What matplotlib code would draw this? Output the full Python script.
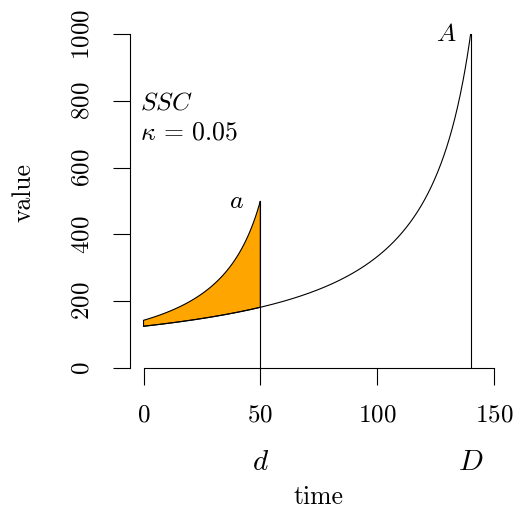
import numpy as np
import matplotlib
matplotlib.use("Agg")
import matplotlib.pyplot as plt
from matplotlib import transforms

plt.rcParams['font.family'] = 'serif'
plt.rcParams['font.serif'] = ['cmr10']
plt.rcParams['mathtext.fontset'] = 'cm'
plt.rcParams['axes.formatter.use_mathtext'] = True

# Parameters
big_reward = 1000      # A
big_delay = 140        # D
small_reward = 500     # a
small_delay = 50       # d
kappa = 0.05
x_ticks = [0, 50, 100, 150]
y_ticks = [0, 200, 400, 600, 800, 1000]

W, H = 517, 513
fig = plt.figure(figsize=(W / 100, H / 100), dpi=100)
left_px, right_px, top_px, bot_px = 129.5, 508.0, 34.0, 368.0
ax = fig.add_axes([left_px / W, 1 - bot_px / H, (right_px - left_px) / W, (bot_px - top_px) / H])
ax.set_xlim(-6, 156)
ax.set_ylim(0, 1000)

# hyperbolic discount curves
tb = np.linspace(0, big_delay, 600)
vb = big_reward / (1 + kappa * (big_delay - tb))
ts = np.linspace(0, small_delay, 300)
vs = small_reward / (1 + kappa * (small_delay - ts))
vb_s = big_reward / (1 + kappa * (big_delay - ts))

lw = 0.8
ax.fill(np.concatenate([ts, ts[::-1]]), np.concatenate([vs, vb_s[::-1]]),
        facecolor='#FFA500', edgecolor='black', lw=lw, zorder=2)
ax.plot(tb, vb, color='black', lw=lw, zorder=3)
ax.plot([big_delay, big_delay], [0, big_reward], color='black', lw=lw, zorder=3)
ax.plot([small_delay, small_delay], [0, small_reward], color='black', lw=lw, zorder=3)

ax.annotate('$A$', (big_delay, big_reward), xytext=(-10, 0), textcoords='offset points',
            ha='right', va='center', fontsize=18.5)
ax.annotate('$a$', (small_delay, small_reward), xytext=(-12, 0), textcoords='offset points',
            ha='right', va='center', fontsize=18.5)
ax.text(-1.5, 796, '$SSC$', ha='left', va='center', fontsize=18.5)
ax.text(-1.5, 705, r'$\kappa\,=\,0.05$', ha='left', va='center', fontsize=18.5)

for s in ['top', 'right']:
    ax.spines[s].set_visible(False)
ax.spines['left'].set_bounds(0, 1000)
ax.spines['bottom'].set_bounds(0, 150)
for s in ['left', 'bottom']:
    ax.spines[s].set_linewidth(lw)
ax.set_xticks(x_ticks)
ax.set_yticks(y_ticks)
ax.tick_params(direction='out', length=12, width=lw, labelsize=18)
ax.tick_params(axis='x', pad=14)
ax.tick_params(axis='y', pad=14, labelrotation=90)
for lab in ax.get_yticklabels():
    lab.set_va('center')

bt = transforms.blended_transform_factory(ax.transData, fig.transFigure)
ax.text(small_delay, 1 - 463 / H, '$d$', transform=bt, ha='center', va='center', fontsize=21)
ax.text(big_delay, 1 - 463 / H, '$D$', transform=bt, ha='center', va='center', fontsize=21)

fig.text(318 / W, 1 - 497 / H, 'time', ha='center', va='center', fontsize=18.5)
fig.text(24 / W, 1 - 193 / H, 'value', ha='center', va='center', rotation=90, fontsize=18.5)

fig.savefig('out.png', dpi=100)
